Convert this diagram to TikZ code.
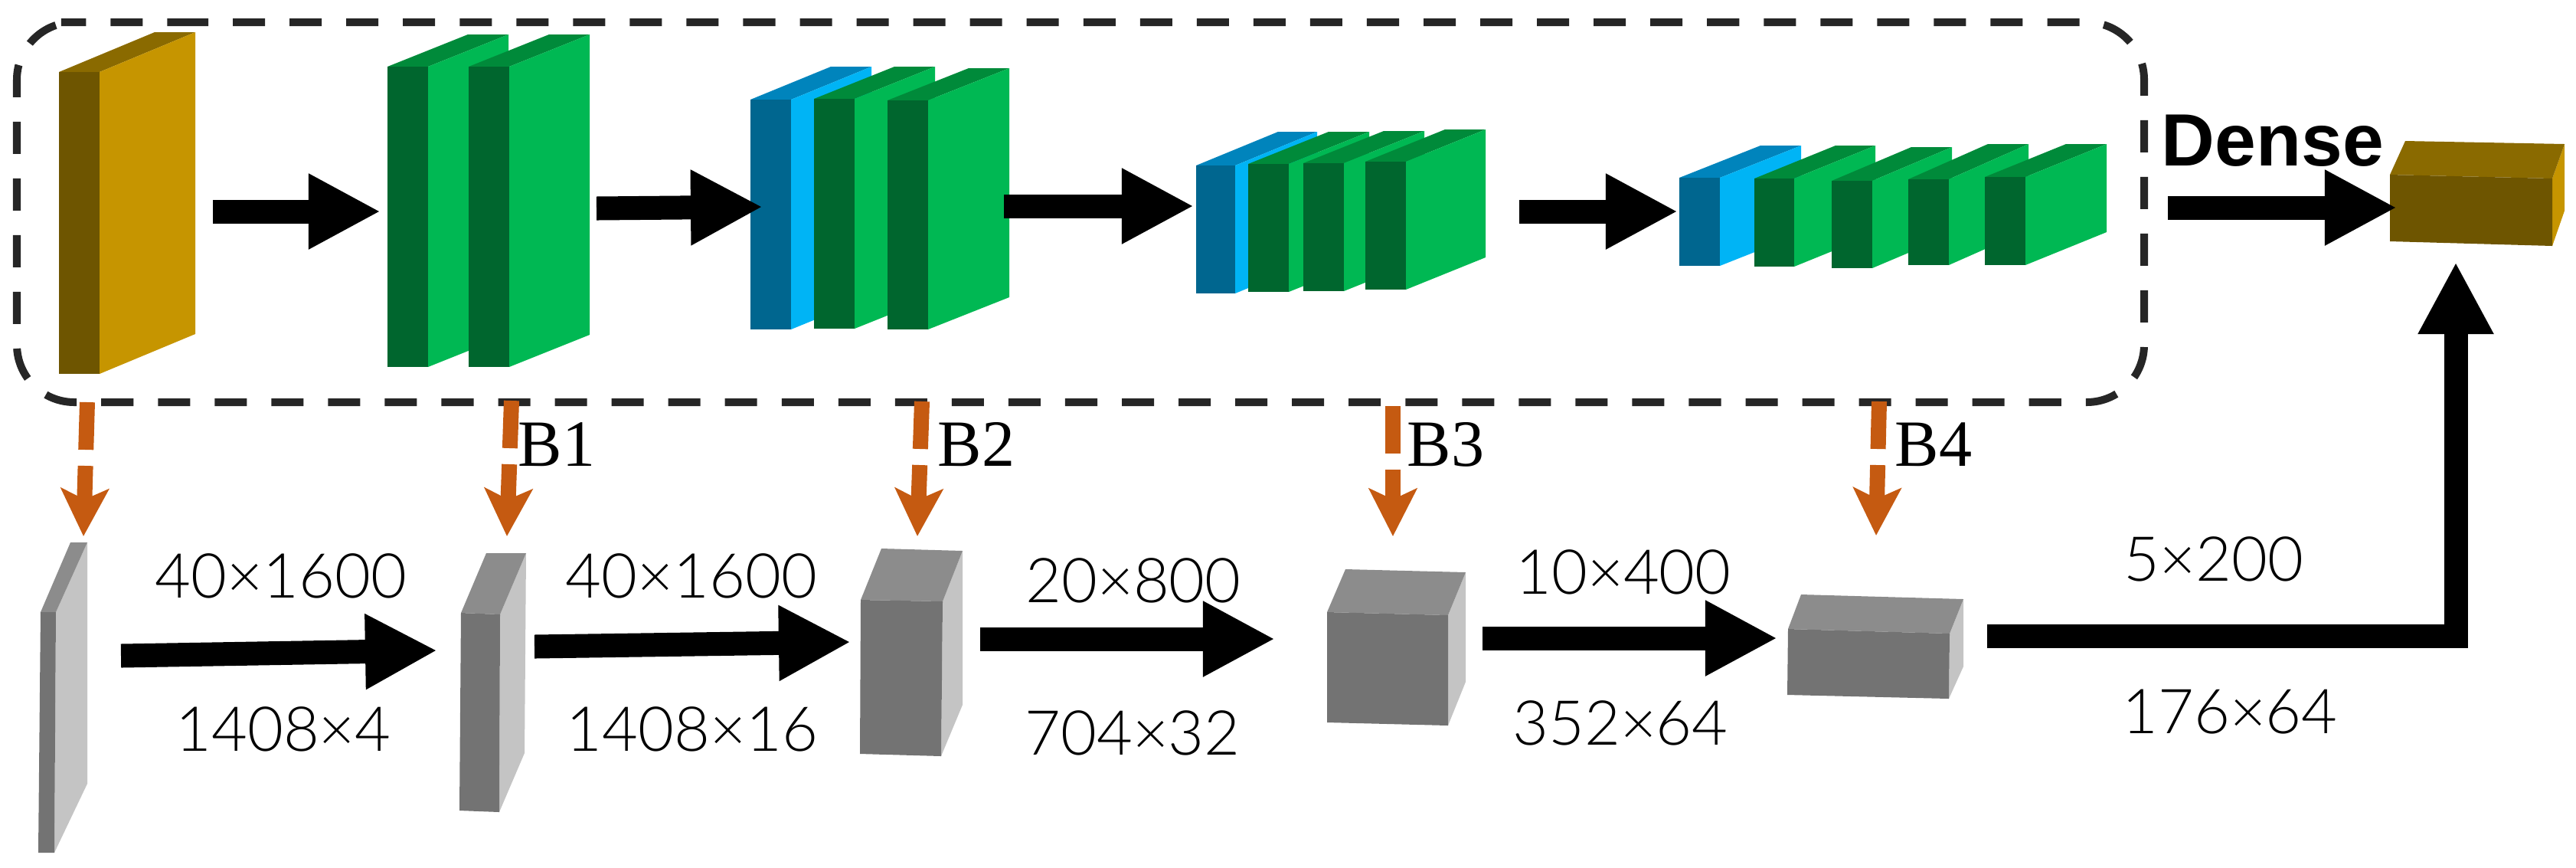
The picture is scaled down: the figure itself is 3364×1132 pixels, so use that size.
\documentclass[tikz,border=0pt]{standalone}
\usepackage{fontspec}
\newfontfamily\dimfont{Lato Light}
\newfontfamily\tagfont{Liberation Serif}
\newfontfamily\densefont{Liberation Sans}
\definecolor{goldF}{HTML}{6E5500}
\definecolor{goldT}{HTML}{8A6A00}
\definecolor{goldS}{HTML}{C69500}
\definecolor{greenF}{HTML}{00662E}
\definecolor{greenT}{HTML}{008A3A}
\definecolor{greenS}{HTML}{00B853}
\definecolor{blueF}{HTML}{00668F}
\definecolor{blueT}{HTML}{0084BC}
\definecolor{blueS}{HTML}{00B4F5}
\definecolor{grayF}{HTML}{737373}
\definecolor{grayT}{HTML}{8C8C8C}
\definecolor{grayS}{HTML}{C4C4C4}
\definecolor{tapcol}{HTML}{C55A11}
\definecolor{dashcol}{HTML}{262626}
\usetikzlibrary{arrows.meta,positioning}
% one slab: colour, x, width, y, height, dx, dy
\newcommand{\slab}[7]{%
  \fill[#1T] (#2,#4) -- ++(#6,-#7) -- ++(#3,0) -- ++(-#6,#7) -- cycle;
  \fill[#1S] ({#2+#3},#4) -- ++(#6,-#7) -- ++(0,#5) -- ++(-#6,#7) -- cycle;
  \fill[#1F] (#2,#4) rectangle ++(#3,#5);
}

\begin{document}
\begin{tikzpicture}[x=0.01cm,y=-0.01cm,
    fatarrow/.style={line width=0.31cm,-{Triangle[length=0.94cm,width=0.92cm]}},
    taparrow/.style={tapcol,line width=0.20cm,dash pattern=on 0.62cm off 0.21cm on 3cm,
      -{Stealth[length=0.62cm,width=0.62cm,inset=0.14cm]}},
    dashbox/.style={dashcol,line width=0.10cm,dash pattern=on 0.42cm off 0.32cm,rounded corners=0.75cm},
    dimlabel/.style={font=\dimfont\fontsize{23}{30}\selectfont,inner sep=0pt},
    blocktag/.style={font=\tagfont\fontsize{24.5}{30}\selectfont,inner sep=0pt},
    densetag/.style={font=\densefont\bfseries\fontsize{27.5}{30}\selectfont,inner sep=0pt}]
  \useasboundingbox (0,0) rectangle (3364,1132);
  % upper stack
  \slab{gold}{77}{53}{94}{394}{125}{52}
  \foreach \c/\xx/\w/\yy/\h/\dx/\dy in {
      green/506/53/87/392/105/42, green/612/53/87/392/105/42,
      blue/980/53/130/300/105/43, green/1063/53/129/300/105/42, green/1159/53/131/299/106/42,
      blue/1562/51/216/167/107/44, green/1630/53/214/167/105/42, green/1702/53/213/167/105/42, green/1783/53/211/167/104/42,
      blue/2193/53/232/115/106/42, green/2291/52/233/115/106/43, green/2392/53/236/114/104/44, green/2492/53/234/112/104/46, green/2592/53/231/115/106/43}
    {\slab{\c}{\xx}{\w}{\yy}{\h}{\dx}{\dy}}
  % dense output
  \fill[goldS] (3333,233) -- (3349,188) -- (3349,275) -- (3333,321) -- cycle;
  \fill[goldT] (3121,228) -- (3141,184) -- (3349,188) -- (3333,233) -- cycle;
  \fill[goldF] (3121,228) -- (3333,233) -- (3333,321) -- (3121,315) -- cycle;
  % dashed frame
  \draw[dashbox] (155,29) -- (2800,29) -- (2800,525) -- (22,525) -- (22,29) -- cycle;
  % lower cuboids
  \fill[grayS] (73,799) -- (114,708) -- (114,1023) -- (71,1113) -- cycle;
  \fill[grayT] (53,799) -- (92,708) -- (114,708) -- (73,799) -- cycle;
  \fill[grayF] (53,799) -- (73,799) -- (71,1113) -- (50,1113) -- cycle;
  \fill[grayS] (653,802) -- (687,722) -- (685,983) -- (652,1060) -- cycle;
  \fill[grayT] (602,800) -- (635,722) -- (687,722) -- (653,802) -- cycle;
  \fill[grayF] (602,800) -- (653,802) -- (652,1060) -- (600,1058) -- cycle;
  \fill[grayS] (1231,785) -- (1257,719) -- (1257,920) -- (1229,987) -- cycle;
  \fill[grayT] (1124,783) -- (1151,716) -- (1257,719) -- (1231,785) -- cycle;
  \fill[grayF] (1124,783) -- (1231,785) -- (1229,987) -- (1123,984) -- cycle;
  \fill[grayS] (1891,803) -- (1914,747) -- (1914,890) -- (1891,947) -- cycle;
  \fill[grayT] (1733,799) -- (1757,743) -- (1914,747) -- (1891,803) -- cycle;
  \fill[grayF] (1733,799) -- (1891,803) -- (1891,947) -- (1733,943) -- cycle;
  \fill[grayS] (2546,827) -- (2564,782) -- (2564,870) -- (2545,912) -- cycle;
  \fill[grayT] (2335,821) -- (2352,776) -- (2564,782) -- (2546,827) -- cycle;
  \fill[grayF] (2335,821) -- (2546,827) -- (2545,912) -- (2334,907) -- cycle;
  % arrow ends, upper row
  \coordinate (u1a) at (278,276);   \coordinate (u1b) at (497,276);
  \coordinate (u2a) at (779,272);   \coordinate (u2b) at (996,270);
  \coordinate (u3a) at (1311,269);  \coordinate (u3b) at (1559,269);
  \coordinate (u4a) at (1984,276);  \coordinate (u4b) at (2191,276);
  \coordinate (u5a) at (2831,271);  \coordinate (u5b) at (3130,271);
  % arrow ends, lower row
  \coordinate (d1a) at (158,856);   \coordinate (d1b) at (571,849);
  \coordinate (d2a) at (698,844);   \coordinate (d2b) at (1111,838);
  \coordinate (d3a) at (1280,834);  \coordinate (d3b) at (1665,834);
  \coordinate (d4a) at (1936,833);  \coordinate (d4b) at (2321,833);
  \coordinate (d5a) at (2595,830);  \coordinate (d5b) at (3207,342);
  % taps
  \coordinate (t0a) at (114,525);   \coordinate (t0b) at (109,700);
  \coordinate (t1a) at (668,523);   \coordinate (t1b) at (662,700);
  \coordinate (t2a) at (1204,524);  \coordinate (t2b) at (1198,700);
  \coordinate (t3a) at (1819,530);  \coordinate (t3b) at (1819,700);
  \coordinate (t4a) at (2454,524);  \coordinate (t4b) at (2450,699);
  \foreach \n in {u1,u2,u3,u4,u5,d1,d2,d3,d4}
    \draw[fatarrow] (\n a) -- (\n b);
  \draw[fatarrow,miter limit=10] (d5a) -| (d5b);
  \foreach \n in {t0,t1,t2,t3,t4}
    \draw[taparrow] (\n a) -- (\n b);
  % labels
  \node[densetag] (denselab) at (2968,184) {Dense};
  \node[blocktag] (b1lab) at (727,580) {B1};
  \node[blocktag] (b2lab) at (1275,580) {B2};
  \node[blocktag] (b3lab) at (1888,580) {B3};
  \node[blocktag] (b4lab) at (2525,580) {B4};
  \node[dimlabel] (top1) at (367,752) {40×1600};
  \node[dimlabel] (low1) at (370,952) {1408×4};
  \node[dimlabel] (top2) at (903,752) {40×1600};
  \node[dimlabel] (low2) at (904,952) {1408×16};
  \node[dimlabel] (top3) at (1480,758) {20×800};
  \node[dimlabel] (low3) at (1479,957) {704×32};
  \node[dimlabel] (top4) at (2120,747) {10×400};
  \node[dimlabel] (low4) at (2116,944) {352×64};
  \node[dimlabel] (top5) at (2891,730) {5×200};
  \node[dimlabel] (low5) at (2912,929) {176×64};
\end{tikzpicture}
\end{document}
